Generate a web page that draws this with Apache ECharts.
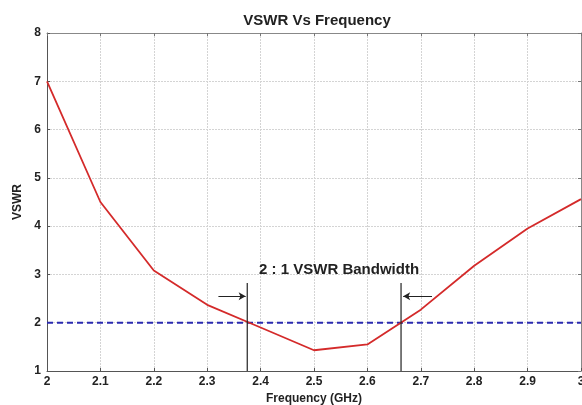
<!DOCTYPE html>
<html>
<head>
<meta charset="utf-8">
<script src="https://cdn.jsdelivr.net/npm/echarts@6/dist/echarts.min.js"></script>
<style>
    html, body {margin: 0; padding: 0; background: #fff;}
    #chart {width: 582px; height: 405px;}
</style>
</head>
<body>
<div id="chart"></div>
<script>
// measured curve
let freq = [2.0, 2.1, 2.2, 2.3, 2.4, 2.5, 2.6, 2.7, 2.8, 2.9, 3.0];
let vswr = [7.0, 4.5, 3.08, 2.37, 1.9, 1.43, 1.55, 2.27, 3.18, 3.95, 4.56];
// 2:1 reference and band edges
let refLevel = 2;
let bandEdges = [2.375, 2.663];
let markerTop = 2.82;
let arrowLevel = 2.55;
let arrowLeft = [2.321, 2.372];
let arrowRight = [2.721, 2.667];
let bandLabel = '2 : 1 VSWR Bandwidth';
let labelPos = [2.547, 3.09];

let font = 'Liberation Sans';
let chart = echarts.init(document.getElementById('chart'));

let curve = freq.map(function (f, i) { return [f, vswr[i]]; });
let refLine = [[2.0, refLevel], [3.0, refLevel]];

let series = [
    {
        name: 'ref',
        type: 'line',
        data: refLine,
        symbol: 'none',
        lineStyle: {color: '#2a2ab0', width: 2, type: [6, 4]},
        z: 3
    },
    {
        name: 'VSWR',
        type: 'line',
        data: curve,
        symbol: 'none',
        lineStyle: {color: '#d42a2a', width: 1.8},
        z: 4
    }
];
bandEdges.forEach(function (x) {
    series.push({
        type: 'line',
        data: [[x, 1], [x, markerTop]],
        symbol: 'none',
        lineStyle: {color: '#222', width: 1.2},
        z: 5
    });
});
series.push({
    type: 'line',
    data: [],
    markLine: {
        silent: true,
        symbol: ['none', 'arrow'],
        symbolSize: [6, 7],
        lineStyle: {color: '#222', width: 1, type: 'solid'},
        label: {show: false},
        data: [
            [{coord: [arrowLeft[0], arrowLevel]}, {coord: [arrowLeft[1], arrowLevel]}],
            [{coord: [arrowRight[0], arrowLevel]}, {coord: [arrowRight[1], arrowLevel]}]
        ]
    },
    markPoint: {
        silent: true,
        symbolSize: 0,
        label: {
            show: true,
            position: 'inside',
            formatter: bandLabel,
            color: '#222',
            fontFamily: font,
            fontWeight: 'bold',
            fontSize: 15
        },
        data: [{coord: labelPos}]
    }
});

let option = {
    backgroundColor: '#fff',
    animation: false,
    title: {
        text: 'VSWR Vs Frequency',
        left: 312,
        textAlign: 'center',
        top: 8,
        textStyle: {fontFamily: font, fontSize: 15, fontWeight: 'bold', color: '#222'}
    },
    grid: {left: 47, right: 1, top: 33, bottom: 34, outerBoundsMode: 'none', containLabel: false},
    xAxis: [
        {
            type: 'value',
            min: 2,
            max: 3,
            interval: 0.1,
            name: 'Frequency (GHz)',
            nameLocation: 'middle',
            nameGap: 20,
            nameTextStyle: {fontFamily: font, fontSize: 12, fontWeight: 'bold', color: '#222'},
            axisLine: {onZero: false, lineStyle: {color: '#555', width: 1}},
            axisTick: {inside: true, length: 3, lineStyle: {color: '#555'}},
            axisLabel: {
                fontFamily: font, fontSize: 12, fontWeight: 'bold', color: '#222', margin: 5,
                formatter: function (v) { return String(Math.round(v * 10) / 10); }
            },
            splitLine: {show: true, lineStyle: {color: '#d4d4d4', type: [2, 1]}}
        },
        {
            type: 'value',
            position: 'top',
            min: 2,
            max: 3,
            interval: 0.1,
            axisLine: {lineStyle: {color: '#888'}},
            axisTick: {inside: true, length: 3, lineStyle: {color: '#777'}},
            axisLabel: {show: false},
            splitLine: {show: false}
        }
    ],
    yAxis: [
        {
            type: 'value',
            min: 1,
            max: 8,
            interval: 1,
            name: 'VSWR',
            nameLocation: 'middle',
            nameGap: 22,
            nameTextStyle: {fontFamily: font, fontSize: 12, fontWeight: 'bold', color: '#222'},
            axisLine: {show: true, lineStyle: {color: '#555', width: 1}},
            axisTick: {show: true, inside: true, length: 3, lineStyle: {color: '#555'}},
            axisLabel: {fontFamily: font, fontSize: 12, fontWeight: 'bold', color: '#222', margin: 6},
            splitLine: {show: true, lineStyle: {color: '#d4d4d4', type: [2, 1]}}
        },
        {
            type: 'value',
            position: 'right',
            min: 1,
            max: 8,
            interval: 1,
            axisLine: {show: true, lineStyle: {color: '#888'}},
            axisTick: {show: true, inside: true, length: 3, lineStyle: {color: '#777'}},
            axisLabel: {show: false},
            splitLine: {show: false}
        }
    ],
    series: series
};
chart.setOption(option);
</script>
</body>
</html>
